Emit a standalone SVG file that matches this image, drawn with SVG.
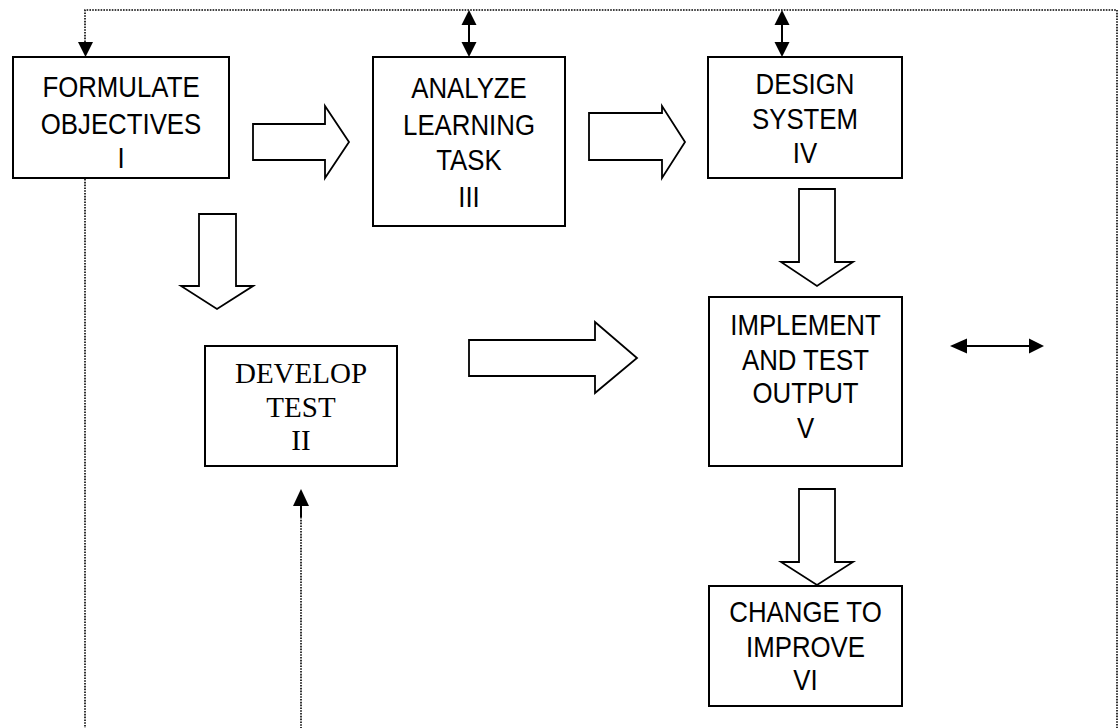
<svg xmlns="http://www.w3.org/2000/svg" width="1118" height="728" viewBox="0 0 1118 728">
<style>
.box{fill:#fff;stroke:#000;stroke-width:2}
.blk{fill:#fff;stroke:#000;stroke-width:1.8;stroke-linejoin:miter}
.dot{fill:none;stroke:#000;stroke-width:1.6;stroke-dasharray:1.6 1.2}
.sol{fill:none;stroke:#000;stroke-width:2}
.head{fill:#000;stroke:none}
.sans{font-family:"Liberation Sans",Arial,sans-serif;font-size:29.5px;fill:#000;text-anchor:middle}
.serif{font-family:"Liberation Serif","Times New Roman",serif;font-size:29px;fill:#000;text-anchor:middle}
</style>
<rect width="1118" height="728" fill="#fff"/>
<g id="connectors">
<path class="dot" d="M85,42 V10 H1117 V728"/>
<path class="dot" d="M85,179 V728"/>
<path class="dot" d="M301,517 V728"/>
<path class="head" d="M78,42 L93,42 L85.5,57 Z"/>
<path class="sol" d="M469,24 V43"/>
<path class="head" d="M461.5,25 L476.5,25 L469,10 Z"/>
<path class="head" d="M461.5,42 L476.5,42 L469,57 Z"/>
<path class="sol" d="M782,24 V43"/>
<path class="head" d="M774.5,25 L789.5,25 L782,10 Z"/>
<path class="head" d="M774.5,42 L789.5,42 L782,57 Z"/>
<path class="sol" d="M966,346 H1030"/>
<path class="head" d="M967,338.5 L967,353.5 L950,346 Z"/>
<path class="head" d="M1029,338.5 L1029,353.5 L1044,346 Z"/>
<path class="sol" d="M301,505 V517"/>
<path class="head" d="M293,506 L309,506 L301,489 Z"/>
<path class="blk" d="M253,124 H325 V106 L349,142 L325,178 V160 H253 Z"/>
<path class="blk" d="M589,113 H662 V106 L685,142 L662,178 V160 H589 Z"/>
<path class="blk" d="M199,214 V286 H181 L217,309 L253,286 H236 V214 Z"/>
<path class="blk" d="M799,189 V262 H781 L817,286 L853,262 H835 V189 Z"/>
<path class="blk" d="M799,489 V562 H781 L817,585 L853,562 H835 V489 Z"/>
<path class="blk" d="M469,340 H595 V322 L637,358 L595,393 V376 H469 Z"/>
</g>
<g id="node-I">
<rect class="box" x="13" y="57" width="216" height="121"/>
<g transform="matrix(0.875,0,0,1,121,0)">
<text class="sans" x="0" y="97">FORMULATE</text>
<text class="sans" x="0" y="134">OBJECTIVES</text>
<text class="sans" x="0" y="168">I</text>
</g>
</g>
<g id="node-II">
<rect class="box" x="205" y="346" width="192" height="120"/>
<text class="serif" x="301" y="383">DEVELOP</text>
<text class="serif" x="301" y="417">TEST</text>
<text class="serif" x="301" y="450">II</text>
</g>
<g id="node-III">
<rect class="box" x="373" y="57" width="192" height="169"/>
<g transform="matrix(0.875,0,0,1,469,0)">
<text class="sans" x="0" y="98">ANALYZE</text>
<text class="sans" x="0" y="135">LEARNING</text>
<text class="sans" x="0" y="170">TASK</text>
<text class="sans" x="0" y="207">III</text>
</g>
</g>
<g id="node-IV">
<rect class="box" x="708" y="57" width="194" height="121"/>
<g transform="matrix(0.875,0,0,1,805,0)">
<text class="sans" x="0" y="94">DESIGN</text>
<text class="sans" x="0" y="129">SYSTEM</text>
<text class="sans" x="0" y="163">IV</text>
</g>
</g>
<g id="node-V">
<rect class="box" x="709" y="297" width="193" height="169"/>
<g transform="matrix(0.875,0,0,1,805.5,0)">
<text class="sans" x="0" y="335">IMPLEMENT</text>
<text class="sans" x="0" y="370">AND TEST</text>
<text class="sans" x="0" y="403">OUTPUT</text>
<text class="sans" x="0" y="438">V</text>
</g>
</g>
<g id="node-VI">
<rect class="box" x="709" y="586" width="193" height="120"/>
<g transform="matrix(0.875,0,0,1,805.5,0)">
<text class="sans" x="0" y="622">CHANGE TO</text>
<text class="sans" x="0" y="657">IMPROVE</text>
<text class="sans" x="0" y="690">VI</text>
</g>
</g>
</svg>
